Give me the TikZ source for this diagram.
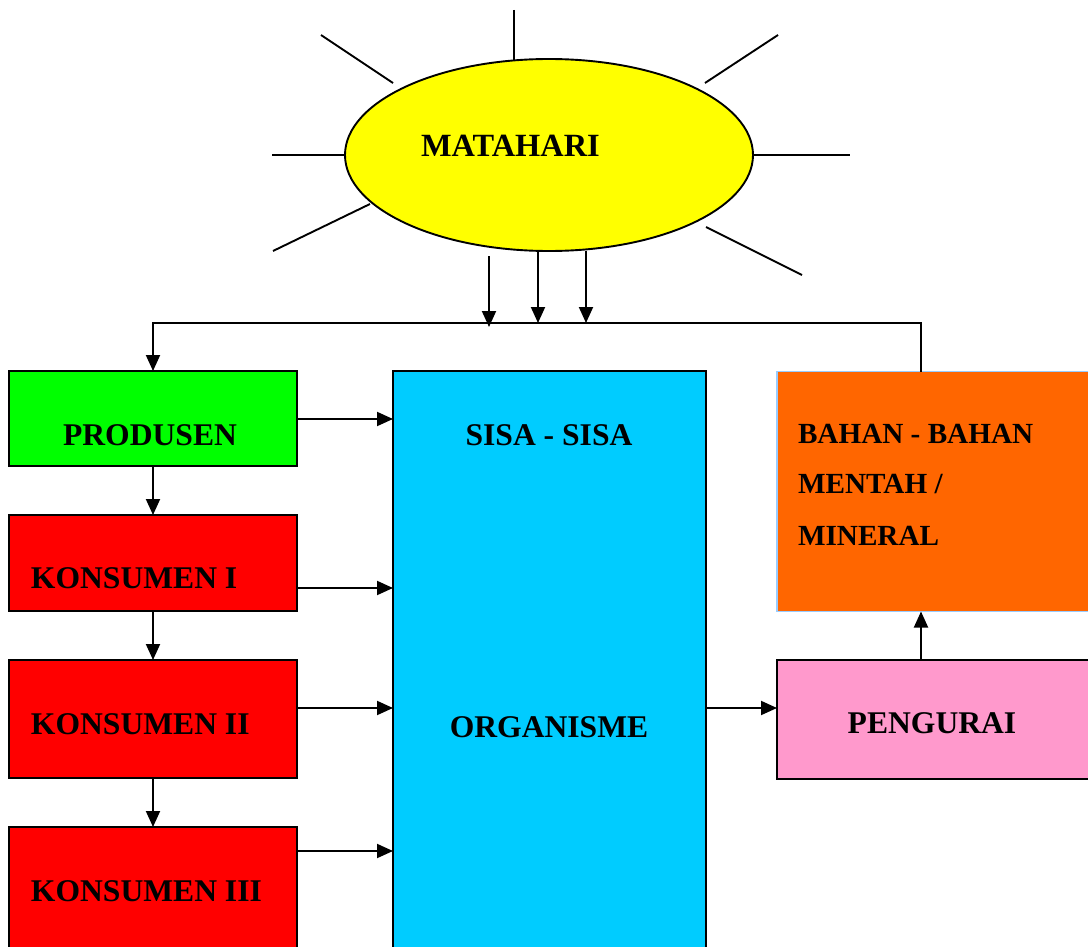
\documentclass[tikz,border=0pt]{standalone}
\usepackage{fontspec}
\setmainfont{Liberation Serif}
\usetikzlibrary{shapes.geometric,arrows.meta}
\definecolor{sunY}{HTML}{FFFF00}
\definecolor{prodG}{HTML}{00FF00}
\definecolor{konR}{HTML}{FF0000}
\definecolor{sisaB}{HTML}{00CCFF}
\definecolor{bahanO}{HTML}{FF6600}
\definecolor{bahanEdge}{HTML}{99CCFF}
\definecolor{pengP}{HTML}{FF99CC}
\begin{document}
\begin{tikzpicture}[x=0.5pt,y=-0.5pt,
  box/.style={draw=black, line width=0.95pt, rectangle, inner sep=0pt, outer sep=0pt},
  lbl/.style={font=\fontsize{15.8pt}{19pt}\selectfont\bfseries, inner sep=0pt, outer sep=0pt},
  smalllbl/.style={font=\fontsize{14.6pt}{18pt}\selectfont\bfseries, inner sep=0pt, outer sep=0pt},
  sunlbl/.style={font=\fontsize{16.2pt}{19pt}\selectfont\bfseries, inner sep=0pt, outer sep=0pt},
  conn/.style={line width=0.95pt, -{Triangle[length=8pt,width=7pt]}},
  ray/.style={line width=0.95pt}]
\useasboundingbox (0,0) rectangle (1088,947);
\clip (0,0) rectangle (1088,947);

% sun rays
\draw[ray] (514,10) -- (514,60);
\draw[ray] (321,35) -- (393,83);
\draw[ray] (778,35) -- (705,83);
\draw[ray] (272,155) -- (346,155);
\draw[ray] (752,155) -- (850,155);
\draw[ray] (273,251) -- (370,204);
\draw[ray] (706,227) -- (802,275);

% sun
\node[ellipse, draw=black, line width=0.95pt, fill=sunY, minimum width=204pt, minimum height=96pt, inner sep=0pt] (sun) at (549,155) {};
\node[sunlbl, anchor=base west] (tsun) at (421,157) {MATAHARI};

% boxes
\node[box, fill=prodG, minimum width=144pt, minimum height=47.5pt] (prod) at (153,418.5) {};
\node[box, fill=konR, minimum width=144pt, minimum height=48pt] (k1) at (153,563) {};
\node[box, fill=konR, minimum width=144pt, minimum height=59pt] (k2) at (153,719) {};
\node[box, fill=konR, minimum width=144pt, minimum height=90pt] (k3) at (153,917) {};
\node[box, fill=sisaB, minimum width=156.5pt, minimum height=314.5pt] (sisa) at (549.5,685.5) {};
\node[box, draw=bahanEdge, fill=bahanO, minimum width=186.5pt, minimum height=120pt] (bahan) at (963.5,491.5) {};
\node[box, fill=pengP, minimum width=186.5pt, minimum height=59.5pt] (peng) at (963.5,719.5) {};

% labels
\node[lbl, anchor=base] (tprod) at (150,445) {PRODUSEN};
\node[lbl, anchor=base west] (tk1) at (31,588) {KONSUMEN I};
\node[lbl, anchor=base west] (tk2) at (31,734) {KONSUMEN II};
\node[lbl, anchor=base west] (tk3) at (31,901) {KONSUMEN III};
\node[lbl, anchor=base] (tsisa) at (549,445) {SISA - SISA};
\node[lbl, anchor=base] (torg) at (549,737) {ORGANISME};
\node[smalllbl, anchor=base west] (tb1) at (798,443) {BAHAN - BAHAN};
\node[smalllbl, anchor=base west] (tb2) at (798,493) {MENTAH /};
\node[smalllbl, anchor=base west] (tb3) at (798,545) {MINERAL};
\node[lbl, anchor=base] (tpeng) at (932,733) {PENGURAI};

% helper coordinates
\coordinate (bus) at (549,323);
\coordinate (s1) at (489,256);
\coordinate (s2) at (538,251);
\coordinate (s3) at (586,251);
\path ([yshift=11.5pt]k1.south east) coordinate (k1o);
\path ([yshift=-24pt]k2.north east) coordinate (k2o);
\path ([yshift=-12pt]k3.north east) coordinate (k3o);
\path ([yshift=-24pt]peng.north west) coordinate (po);
\path ([xshift=72pt]peng.north west) coordinate (pn);
\path ([yshift=-0.25pt]prod.east) coordinate (prodo);

% sun arrows
\draw[conn, shorten >=-2pt] (s1) -- (s1 |- bus);
\draw[conn] (s2) -- (s2 |- bus);
\draw[conn] (s3) -- (s3 |- bus);

% bus
\draw[conn] (pn |- bahan.north) -- (pn |- bus) -- (prod.north |- bus) -- (prod.north);

% chain
\draw[conn] (prod.south) -- (k1.north);
\draw[conn] (k1.south) -- (k2.north);
\draw[conn] (k2.south) -- (k3.north);

% to sisa
\draw[conn] (prodo) -- (prodo -| sisa.west);
\draw[conn] (k1o) -- (k1o -| sisa.west);
\draw[conn] (k2o) -- (k2o -| sisa.west);
\draw[conn] (k3o) -- (k3o -| sisa.west);

% decomposition
\draw[conn] (po -| sisa.east) -- (po);
\draw[conn] (pn) -- (pn |- bahan.south);
\end{tikzpicture}
\end{document}
